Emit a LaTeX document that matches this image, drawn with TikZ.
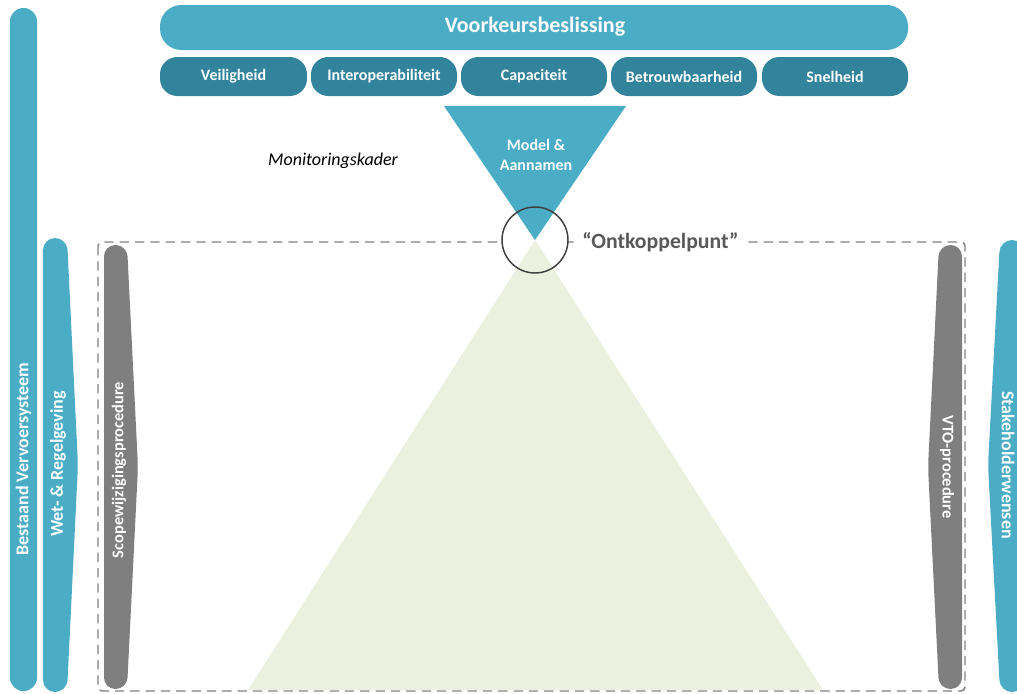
\documentclass[tikz,border=0pt]{standalone}
\usepackage{fontspec}
\setmainfont{Carlito}
\definecolor{aqua}{HTML}{4BACC6}
\definecolor{aquadark}{HTML}{31849B}
\definecolor{procgray}{HTML}{7F7F7F}
\definecolor{funnelgreen}{HTML}{EBF1DE}
\definecolor{ringgray}{HTML}{404040}
\definecolor{labelgray}{HTML}{595959}

\begin{document}
\begin{tikzpicture}[x=0.75pt,y=0.75pt,yscale=-1,xscale=1,
  aquabar/.style={fill=aqua, draw=none, rounded corners=9pt},
  procbar/.style={fill=procgray, draw=none, rounded corners=8.5pt},
  critbox/.style={fill=aquadark, draw=none, rounded corners=13pt},
  wlabel/.style={text=white, inner sep=0.75pt, font=\bfseries\fontsize{12}{14.5}\selectfont},
  barlabel/.style={wlabel, font=\bfseries\fontsize{13.5}{16}\selectfont},
  proclabel/.style={wlabel, font=\bfseries\fontsize{12.3}{15}\selectfont}]
\useasboundingbox (0,0) rectangle (1017,693);
\clip (0,0) rectangle (1017,693);

%Shape: Dashed frame
\draw [color=procgray, line width=1.1pt, dash pattern={on 7pt off 4.5pt}, rounded corners=3pt] (98,242) rectangle (965,691) ;

%Shape: Circle fill (keeps the frame line out of the ring)
\fill [white] (535,240) circle [radius=33] ;
%Shape: Funnel below the point
\fill [funnelgreen, rounded corners=1pt] (535,240) -- (823,690) -- (248,690) -- cycle ;
%Shape: Funnel above the point
\fill [aqua] (444,106) -- (626,106) -- (535,240) -- cycle ;
%Shape: Ring
\draw [color=ringgray, line width=1.1pt] (535,240) circle [radius=33] ;

%Shape: Top banner
\fill [aqua, rounded corners=16pt] (160,5) rectangle (908,50) ;
%Shape: Criteria row
\fill [critbox] (160,57) rectangle (307,96) ;
\fill [critbox] (311,57) rectangle (457,96) ;
\fill [critbox] (461,57) rectangle (607,96) ;
\fill [critbox] (611,57) rectangle (757,96) ;
\fill [critbox] (762,57) rectangle (908,96) ;

%Shape: Left bars
\fill [aquabar, rounded corners=10pt] (10,8) rectangle (37,691) ;
\fill [aquabar] (43,465) -- (43,238) -- (67,238) -- (78,465) -- (67,692) -- (43,692) -- cycle ;
\fill [procbar] (104,467) -- (104,245) -- (127,245) -- (138,467) -- (127,689) -- (104,689) -- cycle ;
%Shape: Right bars
\fill [procbar] (962,467) -- (962,245) -- (939,245) -- (928,467) -- (939,689) -- (962,689) -- cycle ;
\fill [aquabar] (1024,465) -- (1024,240) -- (1000,240) -- (988,465) -- (1000,692) -- (1024,692) -- cycle ;

% Text Node
\node [wlabel, font=\bfseries\fontsize{16.5}{19}\selectfont] (besluit) at (535,27) {Voorkeursbeslissing};
% Text Node
\node [wlabel] (veilig) at (233.5,76.5) {Veiligheid};
% Text Node
\node [wlabel] (interop) at (384,76.5) {Interoperabiliteit};
% Text Node
\node [wlabel] (capac) at (534,76.5) {Capaciteit};
% Text Node
\node [wlabel] (betrouw) at (684,76.5) {Betrouwbaarheid};
% Text Node
\node [wlabel] (snel) at (835,76.5) {Snelheid};
% Text Node
\node [wlabel, align=center] (model) at (536,155) {Model \&\\Aannamen};
% Text Node
\node [inner sep=0.75pt, font=\itshape\fontsize{13.5}{16}\selectfont] (monitor) at (333,161) {Monitoringskader};
% Text Node
\node [anchor=west, fill=white, inner sep=3pt, text=labelgray, font=\bfseries\fontsize{16.3}{19}\selectfont] (ontkop) at (578,242) {“Ontkoppelpunt”};
% Text Node
\node [barlabel, rotate=90] (bestaand) at (23.5,459) {Bestaand Vervoersysteem};
% Text Node
\node [barlabel, rotate=90] (wet) at (58,464) {Wet- \& Regelgeving};
% Text Node
\node [proclabel, rotate=90] (scope) at (119,470) {Scopewijzigingsprocedure};
% Text Node
\node [proclabel, rotate=-90] (vto) at (947,467) {VTO-procedure};
% Text Node
\node [barlabel, rotate=-90] (stake) at (1008,465) {Stakeholderwensen};
\end{tikzpicture}
\end{document}
